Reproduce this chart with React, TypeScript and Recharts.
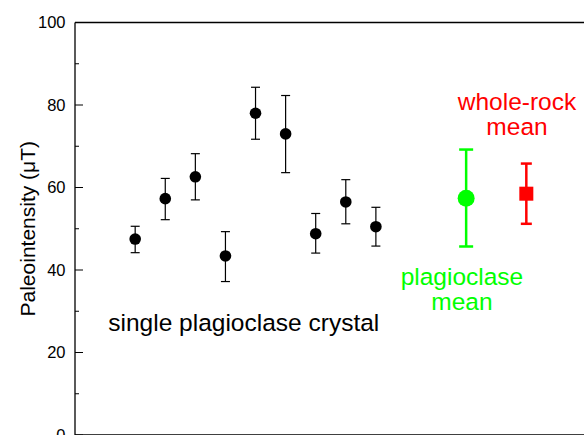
import React from 'react';
import { ScatterChart, Scatter, XAxis, YAxis, ErrorBar, ReferenceDot, ReferenceLine } from 'recharts';

const crystalX = [1, 2, 3, 4, 5, 6, 7, 8, 9];
const crystalY = [47.5, 57.3, 62.6, 43.4, 78.0, 73.0, 48.8, 56.5, 50.5];
const crystalHigh = [50.6, 62.2, 68.2, 49.3, 84.3, 82.3, 53.7, 61.9, 55.2];
const crystalLow = [44.2, 52.2, 57.0, 37.2, 71.7, 63.6, 44.1, 51.2, 45.8];

const plagX = [12];
const plagY = [57.4];
const plagHigh = [69.2];
const plagLow = [45.7];

const rockX = [14];
const rockY = [58.5];
const rockHigh = [65.8];
const rockLow = [51.2];

const yTicks = [0, 10, 20, 30, 40, 50, 60, 70, 80, 90, 100];
const yLabelTicks = [0, 20, 40, 60, 80, 100];
const xDomain = [-1, 16];
const yDomain = [0, 100];

const yAxisTitle = 'Paleointensity (\u03bcT)';
const crystalLabel = 'single plagioclase crystal';
const plagLabel = ['plagioclase', 'mean'];
const rockLabel = ['whole-rock', 'mean'];

const build = (xs: number[], ys: number[], hi: number[], lo: number[]) =>
  xs.map((x, i) => ({ x, y: ys[i], err: [ys[i] - lo[i], hi[i] - ys[i]] }));

const crystalData = build(crystalX, crystalY, crystalHigh, crystalLow);
const plagData = build(plagX, plagY, plagHigh, plagLow);
const rockData = build(rockX, rockY, rockHigh, rockLow);

const FONT = '"Liberation Sans", Arial, Helvetica, sans-serif';
const GREEN = '#00ff00';
const RED = '#ff0000';

const LeftTick = (props: any) => {
  const { x, y, payload } = props;
  const major = yLabelTicks.includes(payload.value);
  return (
    <g>
      <line x1={x} x2={x + (major ? 8 : 4)} y1={y} y2={y} stroke="#000" strokeWidth={1} />
      {major && (
        <text x={x - 9.5} y={y} dy={5.9} textAnchor="end" fontSize={16.5} fill="#000" fontFamily={FONT}>
          {payload.value}
        </text>
      )}
    </g>
  );
};

const RightTick = (props: any) => {
  const { x, y, payload } = props;
  const major = yLabelTicks.includes(payload.value);
  return <line x1={x - (major ? 8 : 4)} x2={x} y1={y} y2={y} stroke="#000" strokeWidth={1} />;
};

const textShape = (text: string, color: string) => (p: any) => (
  <text x={p.cx} y={p.cy} textAnchor="middle" fontSize={24.5} fill={color} fontFamily={FONT}>
    {text}
  </text>
);

const YTitle = (props: any) => {
  const vb = props.viewBox;
  const cx = vb.x + 34.5;
  const cy = vb.y + vb.height / 2;
  return (
    <text
      x={cx}
      y={cy}
      transform={`rotate(-90 ${cx} ${cy})`}
      textAnchor="middle"
      fontSize={21}
      fill="#000"
      fontFamily={FONT}
    >
      {yAxisTitle}
    </text>
  );
};

export default function App() {
  return (
    <div style={{ position: 'absolute', left: 0, top: 0, width: 584, height: 435, overflow: 'hidden', background: '#fff' }}>
      <ScatterChart
        width={600}
        height={460}
        margin={{ top: 22.5, right: 12.5, bottom: 24, left: 0 }}
        style={{ fontFamily: FONT }}
      >
        <XAxis
          type="number"
          dataKey="x"
          domain={xDomain}
          ticks={[]}
          tick={false}
          tickLine={false}
          height={1}
          axisLine={{ stroke: '#000', strokeWidth: 1.3 }}
          allowDataOverflow
        />
        <YAxis
          type="number"
          dataKey="y"
          domain={yDomain}
          ticks={yTicks}
          interval={0}
          width={75}
          tickSize={0}
          tickMargin={0}
          tickLine={false}
          tick={<LeftTick />}
          axisLine={{ stroke: '#000', strokeWidth: 1.3 }}
          label={{ content: <YTitle /> }}
        />
        <YAxis
          yAxisId="right"
          orientation="right"
          type="number"
          domain={yDomain}
          ticks={yTicks}
          interval={0}
          width={1}
          tickSize={0}
          tickMargin={0}
          tickLine={false}
          tick={<RightTick />}
          axisLine={{ stroke: '#000', strokeWidth: 1.3 }}
        />
        <ReferenceLine y={100} stroke="#000" strokeWidth={1.3} />
        <Scatter
          data={crystalData}
          isAnimationActive={false}
          shape={(p: any) => <circle cx={p.cx} cy={p.cy} r={5.8} fill="#000" />}
        >
          <ErrorBar dataKey="err" direction="y" width={4.5} strokeWidth={1.2} stroke="#000" />
        </Scatter>
        <Scatter
          data={plagData}
          isAnimationActive={false}
          shape={(p: any) => <circle cx={p.cx} cy={p.cy} r={8.5} fill={GREEN} />}
        >
          <ErrorBar dataKey="err" direction="y" width={7} strokeWidth={2.5} stroke={GREEN} />
        </Scatter>
        <Scatter
          data={rockData}
          isAnimationActive={false}
          shape={(p: any) => <rect x={p.cx - 7} y={p.cy - 7} width={14} height={14} fill={RED} />}
        >
          <ErrorBar dataKey="err" direction="y" width={5.5} strokeWidth={2.5} stroke={RED} />
        </Scatter>
        <ReferenceDot x={4.61} y={25.3} r={0} shape={textShape(crystalLabel, '#000')} />
        <ReferenceDot x={11.86} y={36.4} r={0} shape={textShape(plagLabel[0], GREEN)} />
        <ReferenceDot x={11.86} y={30.35} r={0} shape={textShape(plagLabel[1], GREEN)} />
        <ReferenceDot x={13.69} y={78.8} r={0} shape={textShape(rockLabel[0], RED)} />
        <ReferenceDot x={13.69} y={72.8} r={0} shape={textShape(rockLabel[1], RED)} />
      </ScatterChart>
    </div>
  );
}
